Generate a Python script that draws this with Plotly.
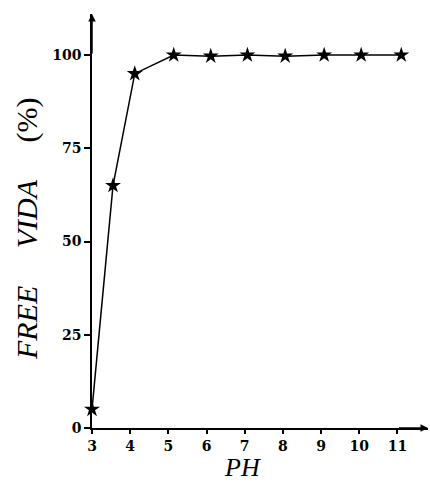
import plotly.graph_objects as go

ph = [3, 3.55, 4.12, 5.14, 6.11, 7.07, 8.06, 9.08, 10.05, 11.1]
free_vida = [5, 65, 95, 100, 99.7, 100, 99.7, 100, 100, 100]
x_ticks = [3, 4, 5, 6, 7, 8, 9, 10, 11]
y_ticks = [0, 25, 50, 75, 100]
x_title = "<i>PH</i>"
y_title = "<i>FREE&nbsp;&nbsp;&nbsp;&nbsp;&nbsp;VIDA</i>&nbsp;&nbsp;&nbsp;&nbsp;&nbsp;(%)"

SERIF = "Liberation Serif, Times New Roman, serif"

fig = go.Figure()
fig.add_trace(go.Scatter(
    x=ph, y=free_vida, mode="lines+markers",
    line=dict(color="black", width=1.5),
    marker=dict(symbol="star", size=12, color="black"),
    cliponaxis=False, showlegend=False,
))

tickfont = dict(family="DejaVu Serif", size=14, color="black", weight="bold")
fig.update_layout(
    width=430, height=482,
    margin=dict(l=92, r=2, t=14, b=54),
    paper_bgcolor="white", plot_bgcolor="white",
    xaxis=dict(
        range=[3, 11.8], tickvals=x_ticks, ticktext=[str(v) for v in x_ticks],
        showgrid=False, zeroline=False, showline=True, linecolor="black", linewidth=1.5,
        ticks="outside", ticklen=4, tickwidth=1.5, tickcolor="black",
        tickfont=tickfont, automargin=False,
    ),
    yaxis=dict(
        range=[0, 111], tickvals=y_ticks, ticktext=[str(v) for v in y_ticks],
        showgrid=False, zeroline=False, showline=True, linecolor="black", linewidth=1.5,
        ticks="outside", ticklen=6, tickwidth=1.5, tickcolor="black",
        tickfont=tickfont, automargin=False,
    ),
)

fig.add_annotation(text=x_title, xref="paper", yref="paper", x=0.449, y=-0.095,
                   xanchor="center", yanchor="middle", showarrow=False,
                   font=dict(family=SERIF, size=26, color="black"))
fig.add_annotation(text=y_title, xref="paper", yref="paper", x=-0.193, y=0.481,
                   xanchor="center", yanchor="middle", showarrow=False, textangle=-90,
                   font=dict(family=SERIF, size=30, color="black"))

fig.add_annotation(x=3, y=111, ax=3, ay=100, xref="x", yref="y", axref="x", ayref="y",
                   showarrow=True, arrowhead=2, arrowsize=1, arrowwidth=1.5, arrowcolor="black", text="")
fig.add_annotation(x=11.8, y=0, ax=11.0, ay=0, xref="x", yref="y", axref="x", ayref="y",
                   showarrow=True, arrowhead=2, arrowsize=1, arrowwidth=1.5, arrowcolor="black", text="")

fig.write_html("out.html", config={"displayModeBar": False},
               post_script="document.body.style.margin='0';document.body.style.overflow='hidden';")
